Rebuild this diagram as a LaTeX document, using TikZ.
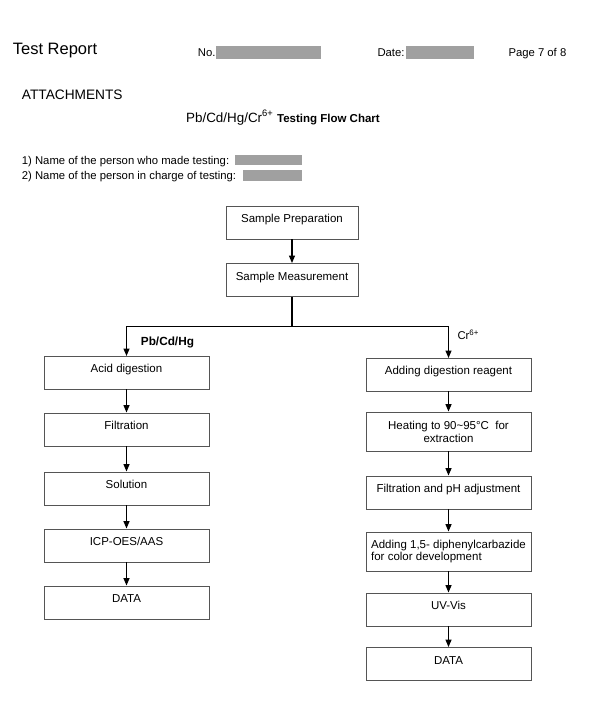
\documentclass[tikz,border=0pt]{standalone}
\usepackage{fontspec}
\setmainfont{Liberation Sans}
\usetikzlibrary{arrows.meta}
\definecolor{redact}{RGB}{160,160,160}
\definecolor{boxline}{RGB}{85,85,85}

\begin{document}
\begin{tikzpicture}[x=1pt, y=-1pt, >={Triangle[length=7.5pt,width=6pt]},
  flowbox/.style={draw=boxline, line width=0.9pt, minimum width=165pt, inner sep=2pt,
    font=\fontsize{11.5}{12.8}\selectfont},
  stepbox/.style={flowbox, minimum height=33pt, text height=6pt, text depth=6pt},
  twobox/.style={flowbox, minimum height=39pt, align=center},
  flow/.style={->, line width=1.3pt},
  small/.style={font=\fontsize{11.3}{13}\selectfont, anchor=base west, inner sep=0pt}]
  \useasboundingbox (0,0) rectangle (600,706);

  % header
    \node[anchor=base west, inner sep=0pt, font=\fontsize{16.5}{18}\selectfont] (report) at (12.7,55) {Test Report};
    \node[small] (no) at (197.7,57) {No.};
    \fill[redact] (216,46) rectangle (320.7,59);
    \node[small] (date) at (377.3,57) {Date:};
    \fill[redact] (406,46) rectangle (474.3,59);
    \node[small] (page) at (508.3,57) {Page 7 of 8};

    \node[anchor=base west, inner sep=0pt, font=\fontsize{13.7}{15}\selectfont] (attach) at (21.7,100) {ATTACHMENTS};
    \node[anchor=base west, inner sep=0pt, font=\fontsize{13.4}{15}\selectfont] (title) at (186,122)
      {Pb/Cd/Hg/Cr\textsuperscript{6+} {\fontsize{11.5}{13}\selectfont\bfseries Testing Flow Chart}};

    \node[small] (who) at (21.7,164.7) {1) Name of the person who made testing:};
    \fill[redact] (235,155) rectangle (301.7,165);
    \node[small] (charge) at (21.7,179.3) {2) Name of the person in charge of testing:};
    \fill[redact] (242.7,170.3) rectangle (302.3,180.7);

  % common part
    \node[stepbox, minimum width=132pt] (prep) at (292,222.5) {Sample Preparation};
    \node[stepbox, minimum width=132pt] (meas) at (292,280) {Sample Measurement};
    \coordinate (split) at (292,326.5);
    \draw[flow] (prep) -- (meas);
    \draw[line width=1.3pt] (meas) -- (split);
    \draw[flow] (split) -| (126.5,356) coordinate (pbin);
    \draw[flow] (split) -| (448.5,358) coordinate (crin);

    \node[small, font=\fontsize{11.8}{13}\selectfont\bfseries] (pblabel) at (140.7,345) {Pb/Cd/Hg};
    \node[small] (crlabel) at (457.3,339.5) {Cr\textsuperscript{6+}};

  % Pb/Cd/Hg
    \node[stepbox] (acid) at (126.5,372.5) {Acid digestion};
    \node[stepbox] (filt) at (126.5,429.5) {Filtration};
    \node[stepbox] (sol) at (126.5,488.5) {Solution};
    \node[stepbox] (icp) at (126.5,545.5) {ICP-OES/AAS};
    \node[stepbox] (pbdata) at (126.5,602.5) {DATA};
    \draw[flow] (acid) -- (filt);
    \draw[flow] (filt) -- (sol);
    \draw[flow] (sol) -- (icp);
    \draw[flow] (icp) -- (pbdata);

  % Cr6+
    \node[stepbox] (reagent) at (448.5,374.5) {Adding digestion reagent};
    \node[twobox] (heat) at (448.5,431.5) {Heating to 90\textasciitilde95°C\ \ for\\extraction};
    \node[stepbox] (ph) at (448.5,492.5) {Filtration and pH adjustment};
    \node[twobox, align=left] (dpc) at (448.5,551.5) {Adding 1,5- diphenylcarbazide\\for color development};
    \node[stepbox] (uv) at (448.5,609.5) {UV-Vis};
    \node[stepbox] (crdata) at (448.5,664) {DATA};
    \draw[flow] (reagent) -- (heat);
    \draw[flow] (heat) -- (ph);
    \draw[flow] (ph) -- (dpc);
    \draw[flow] (dpc) -- (uv);
    \draw[flow] (uv) -- (crdata);
\end{tikzpicture}
\end{document}
